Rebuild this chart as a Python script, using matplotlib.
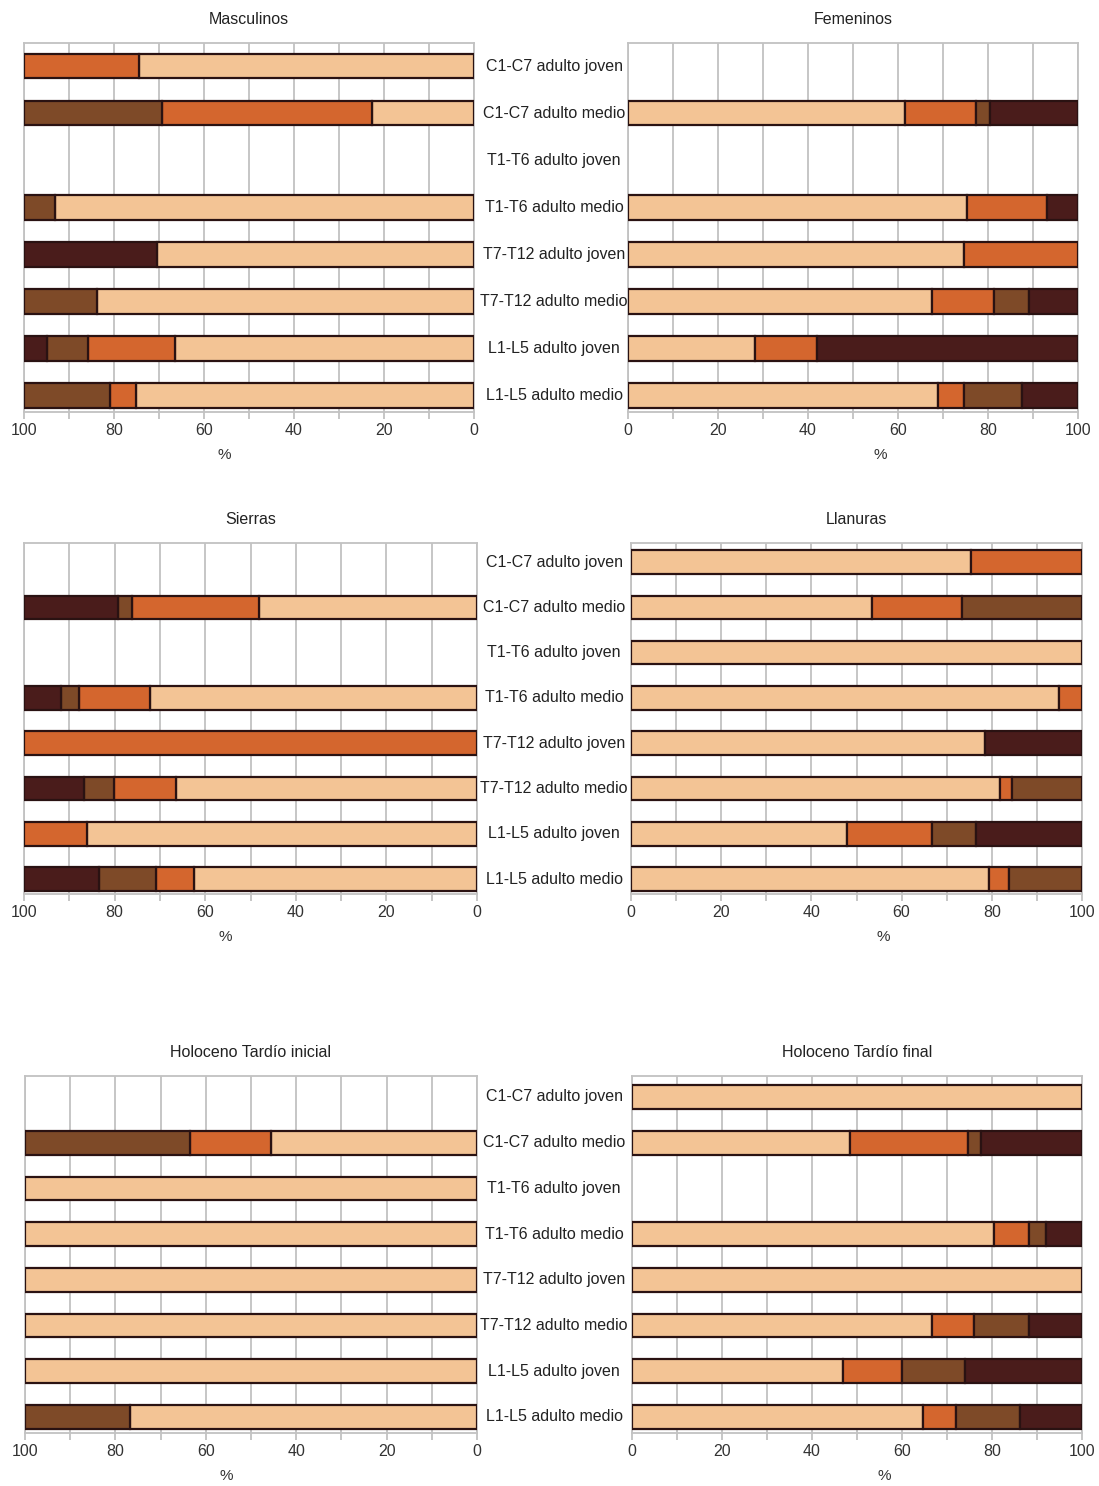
import matplotlib
matplotlib.use("Agg")
import matplotlib.pyplot as plt
import matplotlib.transforms as mtransforms
import numpy as np

plt.rcParams['font.family'] = ['Liberation Sans', 'DejaVu Sans']

categories = ["C1-C7 adulto joven", "C1-C7 adulto medio", "T1-T6 adulto joven",
              "T1-T6 adulto medio", "T7-T12 adulto joven", "T7-T12 adulto medio",
              "L1-L5 adulto joven", "L1-L5 adulto medio"]

titles = ["Masculinos", "Femeninos", "Sierras", "Llanuras",
          "Holoceno Tardío inicial", "Holoceno Tardío final"]

x_ticks = [0, 10, 20, 30, 40, 50, 60, 70, 80, 90, 100]

# Segment values (%) per category, from 0 outward: light, orange, brown, dark
masc_light  = [74.5, 22.7, 0, 93.1, 70.4, 83.7, 66.4, 75.2]
masc_orange = [25.5, 46.7, 0, 0, 0, 0, 19.3, 5.7]
masc_brown  = [0, 30.6, 0, 6.9, 0, 16.3, 9.2, 19.1]
masc_dark   = [0, 0, 0, 0, 29.6, 0, 5.1, 0]

fem_light  = [0, 61.5, 0, 75.4, 74.7, 67.5, 28.2, 68.8]
fem_orange = [0, 15.8, 0, 17.6, 25.3, 13.8, 13.9, 5.9]
fem_brown  = [0, 3.1, 0, 0, 0, 7.9, 0, 12.8]
fem_dark   = [0, 19.6, 0, 7.0, 0, 10.8, 57.9, 12.5]

sie_light  = [0, 48.1, 0, 72.2, 0, 66.4, 86.0, 62.5]
sie_orange = [0, 28.1, 0, 15.6, 100, 13.7, 14.0, 8.3]
sie_brown  = [0, 3.1, 0, 4.1, 0, 6.6, 0, 12.6]
sie_dark   = [0, 20.7, 0, 8.1, 0, 13.3, 0, 16.6]

lla_light  = [75.3, 53.4, 100, 94.9, 78.6, 81.8, 47.9, 79.3]
lla_orange = [24.7, 19.9, 0, 5.1, 0, 2.6, 18.9, 4.5]
lla_brown  = [0, 26.7, 0, 0, 0, 15.6, 9.8, 16.2]
lla_dark   = [0, 0, 0, 0, 21.4, 0, 23.4, 0]

hti_light  = [0, 45.5, 100, 100, 100, 100, 100, 76.8]
hti_orange = [0, 18.0, 0, 0, 0, 0, 0, 0]
hti_brown  = [0, 36.5, 0, 0, 0, 0, 0, 23.2]
hti_dark   = [0, 0, 0, 0, 0, 0, 0, 0]

htf_light  = [100, 48.4, 0, 80.4, 100, 66.7, 46.9, 64.7]
htf_orange = [0, 26.2, 0, 7.8, 0, 9.2, 13.2, 7.2]
htf_brown  = [0, 3.0, 0, 3.7, 0, 12.3, 13.8, 14.3]
htf_dark   = [0, 22.4, 0, 8.1, 0, 11.8, 26.1, 13.8]

panel_data = [
    [masc_light, masc_orange, masc_brown, masc_dark],
    [fem_light, fem_orange, fem_brown, fem_dark],
    [sie_light, sie_orange, sie_brown, sie_dark],
    [lla_light, lla_orange, lla_brown, lla_dark],
    [hti_light, hti_orange, hti_brown, hti_dark],
    [htf_light, htf_orange, htf_brown, htf_dark],
]

colors = ['#F3C495', '#D4662E', '#7E4A28', '#4A1C1B']
edge = '#2A1212'
grid_c = '#C2C2C2'

W, H = 1099, 1486
fig = plt.figure(figsize=(W / 100, H / 100), dpi=100)

# layout in pixels: left-panel x0,x1 ; right-panel x0,x1 ; top, bottom ; first row center ; row spacing
rows = [
    (24, 474, 628, 1078, 43, 412, 66, 47.1),
    (24, 477, 631, 1082, 543, 894, 562, 45.3),
    (25, 477, 632, 1082, 1076, 1433, 1097, 45.7),
]

y = np.arange(len(categories))

for r, (lx0, lx1, rx0, rx1, top, bot, c0, sp) in enumerate(rows):
    for side in range(2):
        idx = r * 2 + side
        x0, x1 = (lx0, lx1) if side == 0 else (rx0, rx1)
        ax = fig.add_axes([x0 / W, 1 - bot / H, (x1 - x0) / W, (bot - top) / H])
        segs = panel_data[idx]
        left = np.zeros(len(categories))
        for seg, col in zip(segs, colors):
            vals = np.array(seg, dtype=float)
            m = vals > 0
            ax.barh(y[m], vals[m], left=left[m], height=0.52, color=col,
                    edgecolor=edge, linewidth=1.6, zorder=3)
            left += vals
        ax.set_ylim((bot - c0) / sp, (top - c0) / sp)
        if side == 0:
            ax.set_xlim(100, 0)
        else:
            ax.set_xlim(0, 100)
        ax.set_xticks(x_ticks)
        ax.set_xticklabels([str(t) if t % 20 == 0 else '' for t in x_ticks])
        ax.set_yticks([])
        ax.grid(axis='x', color=grid_c, linewidth=1.3, zorder=0)
        ax.set_axisbelow(True)
        for s in ax.spines.values():
            s.set_color(grid_c)
            s.set_linewidth(1.3)
        ax.tick_params(axis='x', length=5, width=1.3, color=grid_c,
                       labelsize=11.5, labelcolor='#333333', pad=3)
        ax.set_xlabel('%', fontsize=11, color='#333333')
        ax.xaxis.set_label_coords(0.445 if side == 0 else 0.56,
                                  -(36 / (bot - top)))
        ax.set_title(titles[idx], fontsize=11.5, color='#222222', pad=14)
        if side == 0:
            trans = mtransforms.blended_transform_factory(fig.transFigure, ax.transData)
            for yi, cat in zip(y, categories):
                fig.text(554 / W, yi, cat, transform=trans, ha='center', va='center',
                         fontsize=11.5, color='#222222')

fig.savefig('out.png', dpi=100)
